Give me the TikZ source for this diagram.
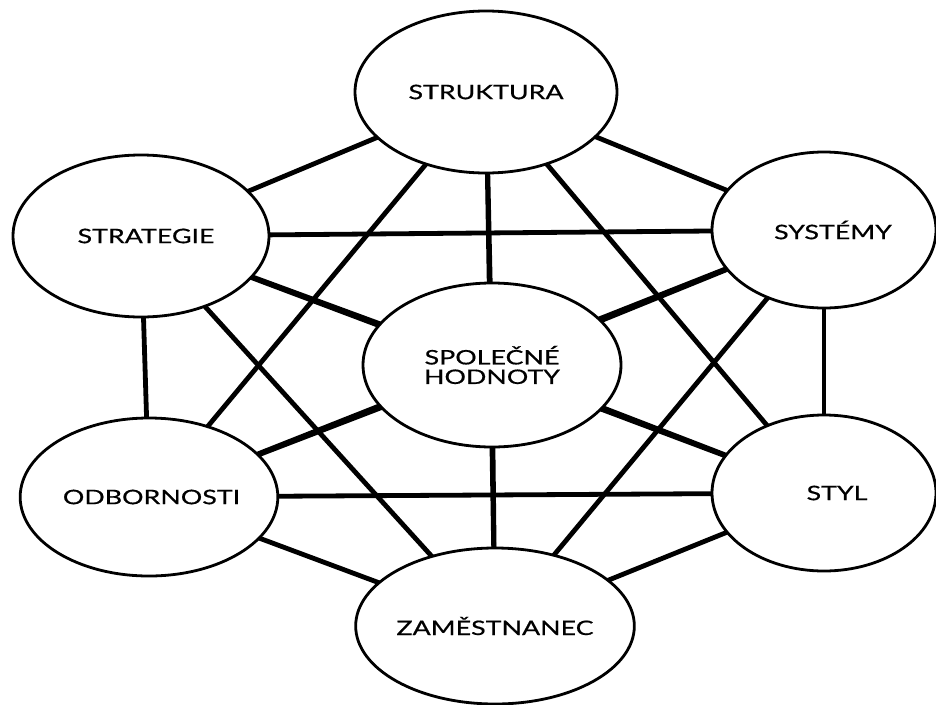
\documentclass[tikz,border=0pt]{standalone}
\usepackage{fontspec}
\setmainfont{Lato}[FakeStretch=1.34,FakeBold=0.6]
\usetikzlibrary{shapes.geometric,backgrounds}
\begin{document}
\begin{tikzpicture}[x=1pt,y=-1pt,
  oval/.style={ellipse, draw, line width=2.8pt, fill=white, inner sep=0pt,
    font=\fontsize{20}{19.5}\selectfont, align=center},
  link/.style={line width=4.8pt}]
\useasboundingbox (0,0) rectangle (936,704);
\node[oval, minimum width=262pt, minimum height=162pt] (struk) at (486,92) {STRUKTURA};
\node[oval, minimum width=256pt, minimum height=162pt] (strat) at (141,236) {\hspace*{10pt}STRATEGIE};
\node[oval, minimum width=224pt, minimum height=156pt] (syst) at (824,230) {\hspace*{18pt}SYSTÉMY};
\node[oval, minimum width=258pt, minimum height=164pt] (spol) at (492,365) {SPOLEČNÉ\\HODNOTY};
\node[oval, minimum width=252pt, minimum height=158pt] (odb) at (149,497) {\hspace*{5pt}ODBORNOSTI};
\node[oval, minimum width=224pt, minimum height=156pt] (styl) at (824,493) {\hspace*{26pt}STYL};
\node[oval, minimum width=256pt, minimum height=156pt] (zam) at (495,626) {ZAMĚSTNANEC};
\begin{scope}[on background layer]
\foreach \a/\b in {struk/strat, struk/syst, struk/spol, struk/odb, struk/styl, struk/zam,
  strat/syst, strat/spol, strat/odb, strat/styl, strat/zam,
  syst/spol, syst/odb, syst/styl, syst/zam,
  spol/odb, spol/styl, spol/zam,
  odb/styl, odb/zam,
  styl/zam}
  \draw[link] (\a.center) -- (\b.center);
\end{scope}
\end{tikzpicture}
\end{document}
